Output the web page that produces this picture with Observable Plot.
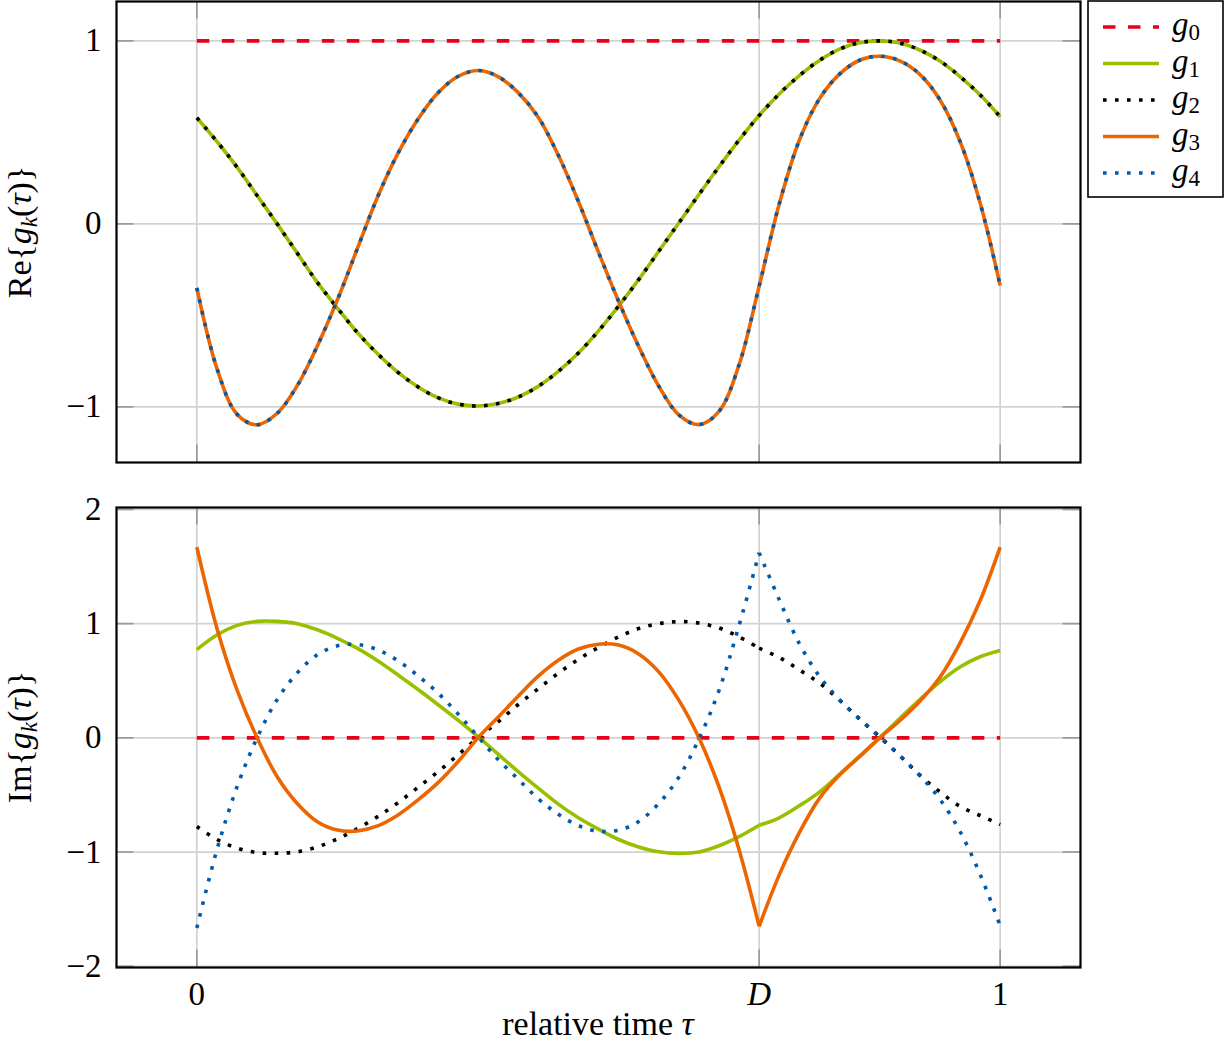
<!DOCTYPE html>
<html>
<head>
<meta charset="utf-8">
<script src="https://cdn.jsdelivr.net/npm/d3@7"></script>
<script src="https://cdn.jsdelivr.net/npm/@observablehq/plot@0.6"></script>
<style>
  body { margin: 0; background: #ffffff; }
  #wrap { position: relative; width: 1226px; height: 1045px; background: #ffffff; }
  #wrap > svg { position: absolute; left: 0; }
</style>
</head>
<body>
<div id="wrap"></div>
<script>
// ---------------- data ----------------
const D = 0.7;
const xTicks = [0, D, 1];
const xTickLabels = ["0", "D", "1"];
const reTicks = [-1, 0, 1];
const imTicks = [-2, -1, 0, 1, 2];
const seriesNames = ["g0", "g1", "g2", "g3", "g4"];

const tauG0 = [0, 1];
const reG0 = [1, 1];
const imG0 = [0, 0];

const tau = [0, 0.025, 0.05, 0.075, 0.1, 0.125, 0.15, 0.175, 0.2, 0.225, 0.25, 0.275, 0.3, 0.325, 0.35, 0.375, 0.4, 0.425, 0.45, 0.475, 0.5, 0.525, 0.55, 0.575, 0.6, 0.625, 0.65, 0.675, 0.7, 0.725, 0.75, 0.775, 0.8, 0.825, 0.85, 0.875, 0.9, 0.925, 0.95, 0.975, 1];

const reG1 = [0.58, 0.45, 0.31, 0.155, 0.0, -0.16, -0.32, -0.46, -0.595, -0.71, -0.81, -0.89, -0.95, -0.985, -0.995, -0.982, -0.946, -0.888, -0.806, -0.706, -0.585, -0.45, -0.305, -0.15, 0.005, 0.16, 0.312, 0.458, 0.592, 0.71, 0.81, 0.893, 0.955, 0.99, 1.0, 0.988, 0.95, 0.89, 0.805, 0.705, 0.585];
const reG2 = [0.58, 0.45, 0.31, 0.155, 0.0, -0.16, -0.32, -0.46, -0.595, -0.71, -0.81, -0.89, -0.95, -0.985, -0.995, -0.982, -0.946, -0.888, -0.806, -0.706, -0.585, -0.45, -0.305, -0.15, 0.005, 0.16, 0.312, 0.458, 0.592, 0.71, 0.81, 0.893, 0.955, 0.99, 1.0, 0.988, 0.95, 0.89, 0.805, 0.705, 0.585];
const reG3 = [-0.35, -0.79, -1.04, -1.098, -1.035, -0.884, -0.667, -0.415, -0.133, 0.147, 0.382, 0.57, 0.715, 0.805, 0.838, 0.805, 0.717, 0.583, 0.375, 0.122, -0.155, -0.423, -0.67, -0.887, -1.044, -1.097, -1.025, -0.77, -0.34, 0.109, 0.457, 0.683, 0.818, 0.894, 0.916, 0.891, 0.817, 0.678, 0.451, 0.115, -0.337];
const reG4 = [-0.35, -0.79, -1.04, -1.098, -1.035, -0.884, -0.667, -0.415, -0.133, 0.147, 0.382, 0.57, 0.715, 0.805, 0.838, 0.805, 0.717, 0.583, 0.375, 0.122, -0.155, -0.423, -0.67, -0.887, -1.044, -1.097, -1.025, -0.77, -0.34, 0.109, 0.457, 0.683, 0.818, 0.894, 0.916, 0.891, 0.817, 0.678, 0.451, 0.115, -0.337];

const imG1 = [0.773, 0.90, 0.985, 1.02, 1.02, 1.0, 0.946, 0.872, 0.783, 0.675, 0.553, 0.425, 0.292, 0.155, 0.01, -0.143, -0.295, -0.44, -0.58, -0.70, -0.80, -0.89, -0.955, -0.998, -1.012, -1.0, -0.945, -0.865, -0.765, -0.70, -0.595, -0.475, -0.32, -0.16, 0.0, 0.17, 0.335, 0.49, 0.62, 0.71, 0.765];
const imG2 = [-0.776, -0.89, -0.965, -1.005, -1.01, -0.998, -0.955, -0.885, -0.795, -0.69, -0.57, -0.435, -0.298, -0.15, 0.0, 0.14, 0.292, 0.43, 0.566, 0.688, 0.791, 0.884, 0.957, 1.0, 1.018, 1.005, 0.962, 0.884, 0.785, 0.704, 0.595, 0.48, 0.33, 0.165, 0.01, -0.155, -0.327, -0.473, -0.599, -0.68, -0.76];
const imG3 = [1.67, 0.96, 0.42, 0.0, -0.34, -0.575, -0.735, -0.808, -0.815, -0.771, -0.677, -0.545, -0.394, -0.21, 0.0, 0.18, 0.365, 0.54, 0.68, 0.778, 0.82, 0.812, 0.735, 0.578, 0.33, 0.0, -0.43, -0.98, -1.65, -1.2, -0.83, -0.53, -0.325, -0.165, 0.0, 0.15, 0.32, 0.53, 0.83, 1.2, 1.67];
const imG4 = [-1.665, -0.98, -0.43, 0.0, 0.335, 0.569, 0.727, 0.806, 0.817, 0.771, 0.677, 0.545, 0.394, 0.21, 0.01, -0.19, -0.362, -0.534, -0.669, -0.768, -0.818, -0.809, -0.733, -0.575, -0.345, -0.01, 0.415, 0.985, 1.62, 1.21, 0.825, 0.539, 0.333, 0.166, 0.005, -0.155, -0.33, -0.537, -0.82, -1.194, -1.644];

// ---------------- styles ----------------
const FONT = "'Liberation Serif', 'DejaVu Serif', serif";
const seriesStyle = {
  g0: {stroke: "#E6001A", dash: "12.5,12.5"},
  g1: {stroke: "#99C000", dash: null},
  g2: {stroke: "#000000", dash: "3.6,8.4"},
  g3: {stroke: "#EC6500", dash: null},
  g4: {stroke: "#005AA9", dash: "3.6,8.4"}
};
const W = 1226, ML = 116, MR = 146;
const gridColor = "#d2d2d2", tickColor = "#9a9a9a", tickLen = 17.5, LW = 3.6;
const fmt = d => (d < 0 ? "\u2212" + Math.abs(d) : String(d));

function toRows(xs, ys, split) {
  const rows = [];
  xs.forEach((x, i) => {
    if (!split) { rows.push({x, y: ys[i], seg: 0}); return; }
    if (x <= D) rows.push({x, y: ys[i], seg: 0});
    if (x >= D) rows.push({x, y: ys[i], seg: 1});
  });
  return rows;
}

function panel({height, marginTop, marginBottom, yDomain, yTicks, series, split, showX}) {
  const frameW = W - ML - MR;
  const frameH = height - marginTop - marginBottom;
  const tickStyle = {stroke: tickColor, strokeWidth: 1.7};
  const marks = [
    Plot.gridX(xTicks, {stroke: gridColor, strokeOpacity: 1, strokeWidth: 1.7}),
    Plot.gridY(yTicks, {stroke: gridColor, strokeOpacity: 1, strokeWidth: 1.7}),
    Plot.tickY(yTicks, {y: d => d, ...tickStyle, insetRight: frameW - tickLen}),
    Plot.tickY(yTicks, {y: d => d, ...tickStyle, insetLeft: frameW - tickLen}),
    Plot.tickX(xTicks, {x: d => d, ...tickStyle, insetBottom: frameH - tickLen}),
    Plot.tickX(xTicks, {x: d => d, ...tickStyle, insetTop: frameH - tickLen}),
    Plot.axisY(yTicks, {tickSize: 0, tickPadding: 15, tickFormat: fmt, label: null})
  ];
  series.forEach(s => {
    const st = seriesStyle[s.name];
    marks.push(Plot.line(toRows(s.x, s.y, split && s.name !== "g0"), {
      x: "x", y: "y", z: "seg",
      stroke: st.stroke, strokeWidth: LW,
      strokeDasharray: st.dash, strokeLinecap: "butt", strokeLinejoin: "round",
      curve: s.name === "g0" ? "linear" : "catmull-rom"
    }));
  });
  if (showX) {
    marks.push(Plot.axisX(xTicks, {tickSize: 0, tickPadding: 14, label: null,
      tickFormat: d => xTickLabels[xTicks.indexOf(d)]}));
  }
  marks.push(Plot.frame({stroke: "#000", strokeWidth: 2.2}));
  return Plot.plot({
    width: W, height, marginLeft: ML, marginRight: MR, marginTop, marginBottom,
    x: {domain: [-0.1, 1.1], axis: showX ? undefined : null},
    y: {domain: yDomain, axis: null},
    style: {fontFamily: FONT, fontSize: "33px", background: "white", color: "black"},
    marks
  });
}

const topSvg = panel({
  height: 470, marginTop: 1, marginBottom: 8,
  yDomain: [-1.304, 1.215], yTicks: reTicks, split: false, showX: false,
  series: [
    {name: "g0", x: tauG0, y: reG0},
    {name: "g1", x: tau, y: reG1},
    {name: "g2", x: tau, y: reG2},
    {name: "g3", x: tau, y: reG3},
    {name: "g4", x: tau, y: reG4}
  ]
});
const botSvg = panel({
  height: 575, marginTop: 37, marginBottom: 78,
  yDomain: [-2.011, 2.017], yTicks: imTicks, split: true, showX: true,
  series: [
    {name: "g0", x: tauG0, y: imG0},
    {name: "g1", x: tau, y: imG1},
    {name: "g2", x: tau, y: imG2},
    {name: "g3", x: tau, y: imG3},
    {name: "g4", x: tau, y: imG4}
  ]
});

const wrap = document.getElementById("wrap");
topSvg.style.top = "0px";
botSvg.style.top = "470px";
wrap.appendChild(topSvg);
wrap.appendChild(botSvg);

// italic D tick label
d3.select(botSvg).selectAll("text").filter(function () { return this.textContent === "D"; })
  .attr("font-style", "italic");

// y axis labels
function yLabel(svg, cy, prefix) {
  const t = d3.select(svg).append("text")
    .attr("transform", `translate(31,${cy}) rotate(-90)`)
    .attr("text-anchor", "middle").attr("font-family", FONT)
    .attr("font-size", 34).attr("fill", "#000");
  t.append("tspan").text(prefix + "{");
  t.append("tspan").attr("font-style", "italic").text("g");
  t.append("tspan").attr("font-style", "italic").attr("font-size", 23).attr("dy", 6).text("k");
  t.append("tspan").attr("dy", -6).text("(");
  t.append("tspan").attr("font-style", "italic").text("\u03C4");
  t.append("tspan").text(")}");
}
yLabel(topSvg, 232, "Re");
yLabel(botSvg, 737 - 470, "Im");

// x axis label
const xl = d3.select(botSvg).append("text")
  .attr("x", (ML + W - MR) / 2).attr("y", 1035 - 470)
  .attr("text-anchor", "middle").attr("font-family", FONT)
  .attr("font-size", 34).attr("fill", "#000");
xl.append("tspan").text("relative time ");
xl.append("tspan").attr("font-style", "italic").text("\u03C4");

// legend
const leg = d3.select(wrap).append("svg")
  .attr("width", 139).attr("height", 200)
  .style("position", "absolute").style("left", "1087px").style("top", "0px");
leg.append("rect").attr("x", 1).attr("y", 1).attr("width", 135).attr("height", 196)
  .attr("fill", "#fff").attr("stroke", "#000").attr("stroke-width", 1.6);
const rowY = [27, 63.5, 100, 136.5, 173];
seriesNames.forEach((name, i) => {
  const st = seriesStyle[name];
  leg.append("line").attr("x1", 16).attr("x2", 72).attr("y1", rowY[i]).attr("y2", rowY[i])
    .attr("stroke", st.stroke).attr("stroke-width", LW)
    .attr("stroke-dasharray", st.dash).attr("stroke-linecap", "butt");
  const t = leg.append("text").attr("x", 85).attr("y", rowY[i] + 8)
    .attr("font-family", FONT).attr("font-size", 33).attr("fill", "#000");
  t.append("tspan").attr("font-style", "italic").text(name[0]);
  t.append("tspan").attr("font-size", 23).attr("dy", 5).text(name.slice(1));
});
</script>
</body>
</html>
